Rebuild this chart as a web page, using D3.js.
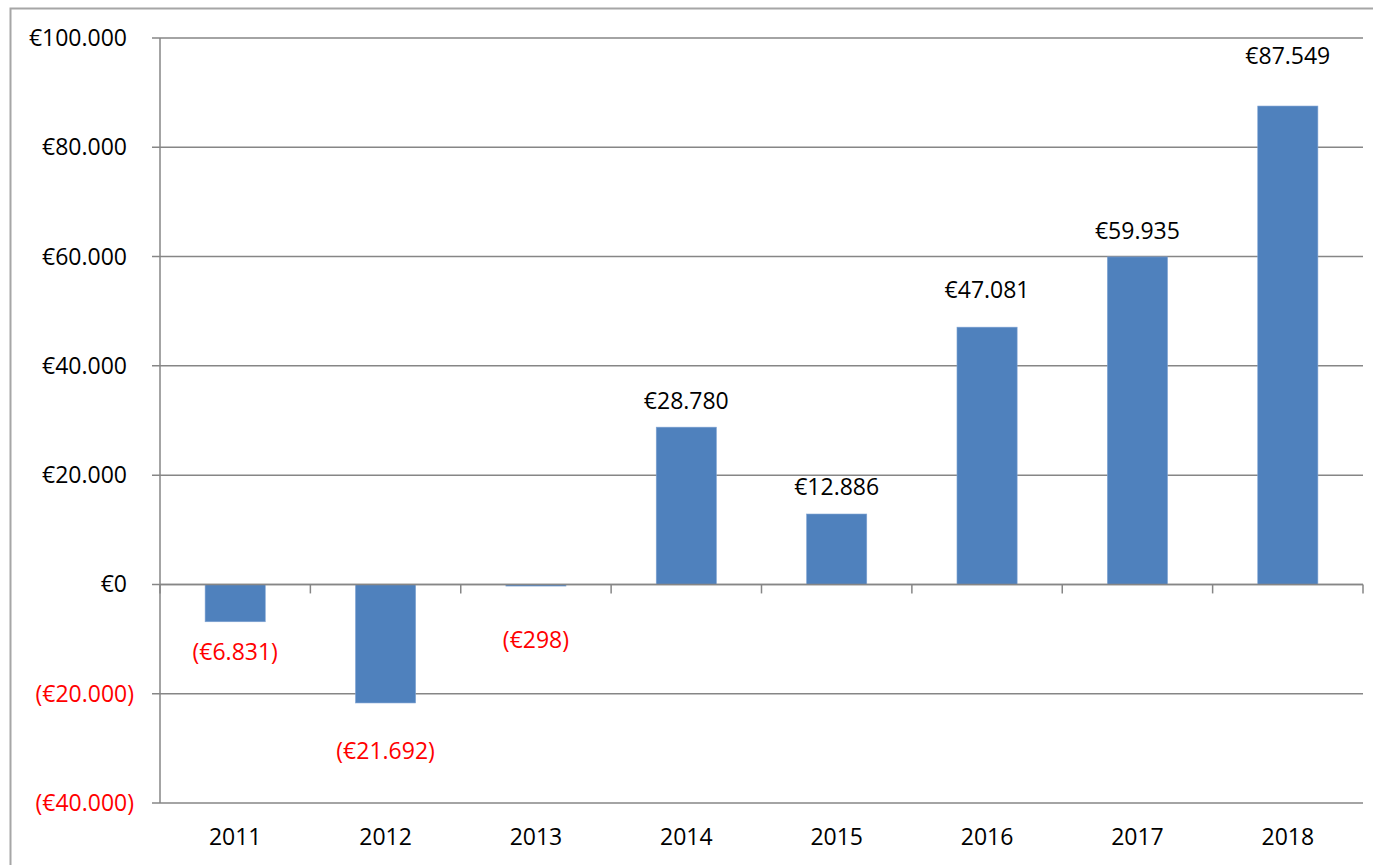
<!DOCTYPE html>
<html>
<head>
<meta charset="utf-8">
<script src="https://cdn.jsdelivr.net/npm/d3@7"></script>
<style>
  body { margin: 0; background: #fff; }
  svg text { font-family: "Open Sans", sans-serif; font-size: 23px; }
</style>
</head>
<body>
<svg id="chart"></svg>
<script>
// Data
const years = ["2011", "2012", "2013", "2014", "2015", "2016", "2017", "2018"];
const profits = [-6831, -21692, -298, 28780, 12886, 47081, 59935, 87549];
// where each value label sits, in euros (labels were placed by hand in the original)
const labelAt = [-12400, -30400, -10250, 33580, 17750, 53890, 64780, 96800];
const yTicks = [-40000, -20000, 0, 20000, 40000, 60000, 80000, 100000];

const width = 1373;
const height = 865;
const margin = { top: 38, right: 10, bottom: 62, left: 160 };

const svg = d3.select("#chart")
  .attr("width", width)
  .attr("height", height);

// outer chart border (runs off the right and bottom of the picture)
svg.append("rect")
  .attr("x", 10.5)
  .attr("y", 8.5)
  .attr("width", 1400)
  .attr("height", 900)
  .attr("fill", "none")
  .attr("stroke", "#a6a6a6")
  .attr("stroke-width", 2);

const x = d3.scaleBand()
  .domain(years)
  .range([margin.left, width - margin.right])
  .paddingInner(0.6)
  .paddingOuter(0.3);

const y = d3.scaleLinear()
  .domain([-40000, 100000])
  .range([height - margin.bottom, margin.top]);

// euro format with dots as thousands separator, negatives in parentheses
const nl = d3.formatLocale({ decimal: ",", thousands: ".", grouping: [3], currency: ["€", ""] });
const fmtAbs = nl.format("$,.0f");
const fmt = v => v < 0 ? "(" + fmtAbs(-v) + ")" : fmtAbs(v);

// gridlines
svg.append("g")
  .selectAll("line")
  .data(yTicks)
  .join("line")
  .attr("x1", margin.left - 8)
  .attr("x2", width - margin.right)
  .attr("y1", d => y(d))
  .attr("y2", d => y(d))
  .attr("stroke", "#868686")
  .attr("stroke-width", 1.5);

// y axis line
svg.append("line")
  .attr("x1", margin.left)
  .attr("x2", margin.left)
  .attr("y1", y(100000))
  .attr("y2", y(-40000))
  .attr("stroke", "#868686")
  .attr("stroke-width", 1.5);

// y tick labels (accounting style: closing paren hangs past the digits)
svg.append("g")
  .selectAll("text")
  .data(yTicks)
  .join("text")
  .attr("x", d => d < 0 ? margin.left - 26 : margin.left - 33)
  .attr("y", d => y(d))
  .attr("dy", "0.35em")
  .attr("text-anchor", "end")
  .attr("fill", d => d < 0 ? "#ff0000" : "#000")
  .text(d => fmt(d));

// bars
svg.append("g")
  .selectAll("rect")
  .data(profits)
  .join("rect")
  .attr("x", (d, i) => x(years[i]))
  .attr("width", x.bandwidth())
  .attr("y", d => y(Math.max(0, d)))
  .attr("height", d => Math.max(1, Math.abs(y(d) - y(0))))
  .attr("fill", "#4f81bd")
  .attr("stroke", "#7fa3d3")
  .attr("stroke-width", 0.6);

// category axis on the zero line, ticks between categories
const step = x.step();
const bounds = years.map(d => x(d) - step * x.paddingInner() / 2).concat([width - margin.right]);
bounds[0] = margin.left;
svg.append("line")
  .attr("x1", margin.left)
  .attr("x2", width - margin.right)
  .attr("y1", y(0))
  .attr("y2", y(0))
  .attr("stroke", "#868686")
  .attr("stroke-width", 1.5);
svg.append("g")
  .selectAll("line")
  .data(bounds)
  .join("line")
  .attr("x1", d => d)
  .attr("x2", d => d)
  .attr("y1", y(0))
  .attr("y2", y(0) + 9)
  .attr("stroke", "#868686")
  .attr("stroke-width", 1.5);

// year labels
svg.append("g")
  .selectAll("text")
  .data(years)
  .join("text")
  .attr("x", d => x(d) + x.bandwidth() / 2)
  .attr("y", 837)
  .attr("dy", "0.35em")
  .attr("text-anchor", "middle")
  .attr("fill", "#000")
  .text(d => d);

// value labels
svg.append("g")
  .selectAll("text")
  .data(profits)
  .join("text")
  .attr("x", (d, i) => x(years[i]) + x.bandwidth() / 2)
  .attr("y", (d, i) => y(labelAt[i]))
  .attr("dy", "0.35em")
  .attr("text-anchor", "middle")
  .attr("fill", d => d < 0 ? "#ff0000" : "#000")
  .text(d => fmt(d));
</script>
</body>
</html>
